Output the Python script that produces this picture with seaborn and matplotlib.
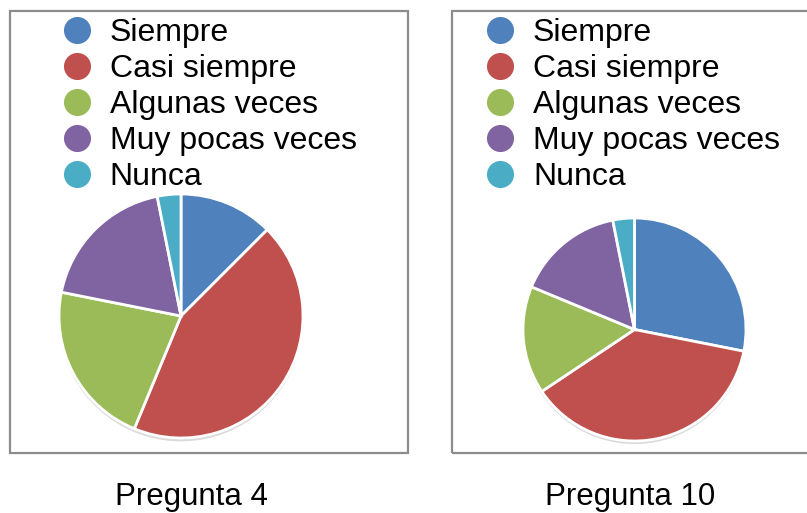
import matplotlib
matplotlib.use("Agg")
import matplotlib.pyplot as plt
from matplotlib.lines import Line2D
from matplotlib.patches import Rectangle
import seaborn as sns

# Data (answers out of 32 respondents)
categorias = ["Siempre", "Casi siempre", "Algunas veces", "Muy pocas veces", "Nunca"]
pregunta_4 = [4, 14, 7, 6, 1]
pregunta_10 = [9, 12, 5, 5, 1]
titulos = ["Pregunta 4", "Pregunta 10"]

colores = sns.color_palette(["#4F81BD", "#C0504D", "#9BBB59", "#8064A2", "#4BACC6"])

sns.set_theme(style="white")
plt.rcParams["font.family"] = ["Liberation Sans", "DejaVu Sans"]
plt.rcParams["text.color"] = "black"

W, H = 807, 513
fig = plt.figure(figsize=(W / 100, H / 100), dpi=100)
fig.patch.set_facecolor("white")


def px_box(x0, y0, x1, y1):
    # pixel box (top-left origin) -> figure fraction [left, bottom, width, height]
    return [x0 / W, 1 - y1 / H, (x1 - x0) / W, (y1 - y0) / H]


# panel frames
for x0, x1 in [(10, 408), (452, 812)]:
    l, b, w, h = px_box(x0, 11, x1, 453)
    fig.patches.append(Rectangle((l, b), w, h, transform=fig.transFigure,
                                 facecolor="none", edgecolor="#8c8c8c", linewidth=1.6))

paneles = [
    (pregunta_4, px_box(59, 194, 303, 438), 61, 191),
    (pregunta_10, px_box(523, 218, 746, 441), 484, 630),
]

for (valores, caja, leg_x, titulo_x), titulo in zip(paneles, titulos):
    ax = fig.add_axes(caja)
    ax.pie(valores, colors=colores, startangle=90, counterclock=False,
           wedgeprops=dict(edgecolor="white", linewidth=2),
           shadow=dict(ox=0.0, oy=-0.02, facecolor="#9a9a9a",
                       edgecolor="none", alpha=0.35))
    ax.set_xlim(-1.0, 1.0)
    ax.set_ylim(-1.0, 1.0)
    ax.set_aspect("equal")
    ax.axis("off")

    handles = [Line2D([], [], linestyle="none", marker="o", markersize=20.5,
                      markerfacecolor=c, markeredgecolor="white", markeredgewidth=1)
               for c in colores]
    fig.legend(handles, categorias, loc="upper left",
               bbox_to_anchor=(leg_x / W, 1 - 18 / H), borderaxespad=0,
               frameon=False, fontsize=23, labelspacing=0.19, handlelength=1.0,
               handletextpad=0.53, borderpad=0, labelcolor="black")

    fig.text(titulo_x / W, 1 - 497 / H, titulo, ha="center", va="center",
             fontsize=22.5, color="black")

fig.savefig("out.png", dpi=100)
